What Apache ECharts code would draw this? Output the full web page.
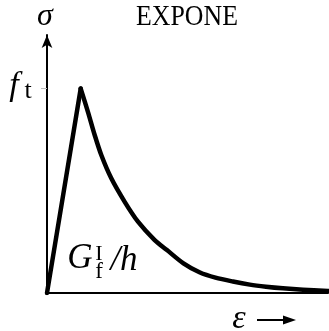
<!DOCTYPE html>
<html>
<head>
<meta charset="utf-8">
<style>
  html, body { margin: 0; padding: 0; background: #fff; }
  #chart { width: 329px; height: 331px; }
</style>
<script src="https://cdn.jsdelivr.net/npm/echarts@6/dist/echarts.min.js"></script>
</head>
<body>
<div id="chart"></div>
<script>
// Exponential softening law: strain (in units of the peak strain) vs stress (in units of f_t)
const riseStrain = [0, 1];
const riseStress = [0, 1];
const decayStrain = [1, 1.217, 1.415, 1.611, 1.908, 2.306, 2.70, 3.196, 3.56, 4.05, 4.54, 5.0, 5.52, 6.02, 6.5, 7.0, 7.6, 8.34];
const decayStress = [1, 0.885, 0.773, 0.675, 0.561, 0.446, 0.349, 0.259, 0.21, 0.145, 0.100, 0.075, 0.056, 0.041, 0.031, 0.023, 0.016, 0.010];
const strainMax = 8.34;
const stressMax = 1.262;
const stressTicks = [1];

const chart = echarts.init(document.getElementById('chart'), null, { renderer: 'canvas' });

const serif = '"Liberation Serif", "DejaVu Serif", serif';
const centred = { fill: '#000', textAlign: 'center', textVerticalAlign: 'middle', align: 'center', verticalAlign: 'middle' };
function label(text, x, y, font, extra) {
  return Object.assign({ type: 'text', x: x, y: y, style: Object.assign({ text: text, font: font }, centred) }, extra || {});
}

const curveStyle = { color: '#000', width: 4.5, cap: 'round', join: 'round' };

const option = {
  animation: false,
  backgroundColor: '#fff',
  grid: { left: 47, top: 35, width: 281, height: 258 },
  xAxis: {
    type: 'value', min: 0, max: strainMax,
    axisLine: { show: true, lineStyle: { color: '#000', width: 2 } },
    axisTick: { show: false }, axisLabel: { show: false }, splitLine: { show: false }
  },
  yAxis: {
    type: 'value', min: 0, max: stressMax,
    axisLine: {
      show: true, symbol: ['none', 'arrow'], symbolSize: [8, 13],
      lineStyle: { color: '#000', width: 2 }
    },
    axisTick: { show: true, customValues: stressTicks, length: 6, lineStyle: { color: '#bbb', width: 1 } },
    axisLabel: { show: false },
    splitLine: { show: false }
  },
  series: [{
    type: 'line',
    data: riseStrain.map((e, i) => [e, riseStress[i]]),
    symbol: 'none',
    lineStyle: curveStyle
  }, {
    type: 'line',
    data: decayStrain.map((e, i) => [e, decayStress[i]]),
    symbol: 'none',
    smooth: 0.3,
    lineStyle: curveStyle
  }],
  graphic: [
    label('EXPONE', 187, 17, '29px ' + serif, { scaleX: 0.89, originX: 0, originY: 0 }),
    label('σ', 45, 17, 'italic 32px ' + serif),
    label('f', 14, 86, 'italic 34px ' + serif),
    label('t', 28, 91, '26px ' + serif),
    label('G', 80, 259, 'italic 35px ' + serif),
    label('I', 99, 254, '22px ' + serif),
    label('f', 99, 272, '23px ' + serif),
    label('/h', 124, 261, 'italic 35px ' + serif),
    label('ε', 239, 319, 'italic 34px ' + serif),
    { type: 'line', shape: { x1: 257, y1: 320, x2: 287, y2: 320 }, style: { stroke: '#000', lineWidth: 2 } },
    { type: 'polygon', shape: { points: [[296, 320], [283, 315.5], [283, 324.5]] }, style: { fill: '#000' } }
  ]
};

chart.setOption(option);
</script>
</body>
</html>
